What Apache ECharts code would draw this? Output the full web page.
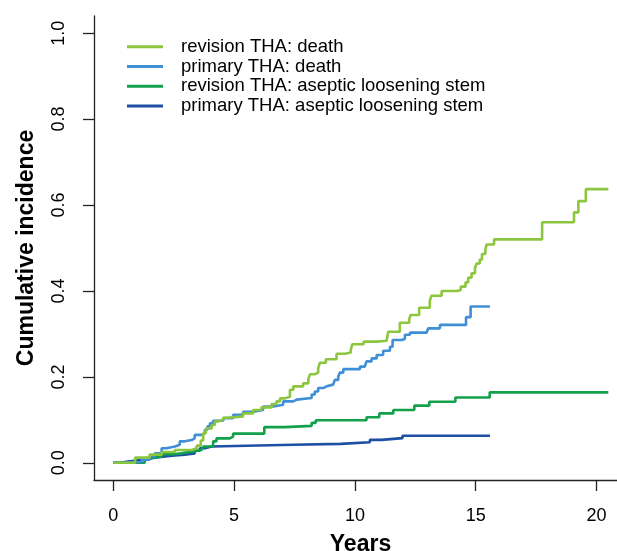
<!DOCTYPE html>
<html>
<head>
<meta charset="utf-8">
<script src="https://cdn.jsdelivr.net/npm/echarts@6/dist/echarts.min.js"></script>
<style>
html,body{margin:0;padding:0;background:#fff;}
#chart{width:617px;height:551px;}
</style>
</head>
<body>
<div id="chart"></div>
<script>
// ---- data ----
const seriesNames = [
  'revision THA: death',
  'primary THA: death',
  'revision THA: aseptic loosening stem',
  'primary THA: aseptic loosening stem'
];
const xTicks = [0, 5, 10, 15, 20];
const yTicks = [0, 0.2, 0.4, 0.6, 0.8, 1.0];

const revDeathT = [0, 0.9, 1.5, 2.0, 2.55, 3.24, 3.45, 3.62, 3.72, 3.83, 4.07, 4.2, 4.34, 4.55, 4.76, 5.37, 5.79, 6.13, 6.55, 6.75, 6.9, 7.1, 7.31, 7.45, 7.86, 8.07, 8.14, 8.33, 8.48, 8.55, 8.8, 9.24, 9.59, 9.83, 9.89, 10.36, 10.92, 11.31, 11.38, 11.86, 12.25, 12.3, 12.66, 13.1, 13.17, 13.59, 14.21, 14.38, 14.58, 14.69, 14.83, 14.97, 15.04, 15.17, 15.26, 15.4, 15.45, 15.76, 17.75, 19.07, 19.25, 19.56, 20.49];
const revDeathV = [0, 0.012, 0.019, 0.025, 0.030, 0.034, 0.040, 0.052, 0.069, 0.080, 0.088, 0.096, 0.100, 0.105, 0.108, 0.115, 0.123, 0.129, 0.137, 0.143, 0.150, 0.154, 0.170, 0.178, 0.185, 0.194, 0.206, 0.210, 0.220, 0.233, 0.241, 0.254, 0.257, 0.263, 0.276, 0.282, 0.284, 0.288, 0.305, 0.326, 0.334, 0.344, 0.361, 0.377, 0.389, 0.400, 0.402, 0.410, 0.420, 0.431, 0.441, 0.453, 0.464, 0.473, 0.486, 0.495, 0.508, 0.520, 0.560, 0.583, 0.609, 0.637, 0.637];

const priDeathT = [0, 0.4, 1.17, 1.51, 1.72, 2.0, 2.2, 2.55, 2.75, 2.96, 3.24, 3.37, 3.65, 3.79, 3.9, 4.0, 4.13, 4.55, 4.96, 5.37, 5.79, 6.2, 6.62, 7.03, 7.45, 7.59, 8.21, 8.34, 8.48, 8.69, 8.83, 9.1, 9.17, 9.31, 9.38, 9.52, 10.21, 10.41, 10.48, 10.69, 10.9, 11.17, 11.45, 11.56, 11.93, 12.07, 12.28, 12.97, 13.03, 13.52, 14.6, 14.79, 15.59];
const priDeathV = [0, 0.002, 0.007, 0.015, 0.022, 0.034, 0.038, 0.042, 0.050, 0.053, 0.057, 0.065, 0.069, 0.077, 0.085, 0.092, 0.098, 0.104, 0.112, 0.119, 0.123, 0.131, 0.135, 0.143, 0.147, 0.151, 0.159, 0.166, 0.174, 0.178, 0.182, 0.184, 0.193, 0.201, 0.210, 0.218, 0.224, 0.228, 0.236, 0.243, 0.251, 0.261, 0.270, 0.286, 0.288, 0.298, 0.303, 0.305, 0.313, 0.321, 0.339, 0.364, 0.364];

const revLoosT = [0, 1.3, 1.58, 2.0, 2.48, 2.82, 3.24, 3.65, 3.72, 4.13, 4.27, 4.82, 4.96, 6.25, 7.1, 8.21, 8.38, 10.48, 11.01, 11.59, 12.46, 13.08, 14.16, 15.58, 20.49];
const revLoosV = [0, 0.011, 0.015, 0.020, 0.022, 0.026, 0.030, 0.034, 0.038, 0.050, 0.057, 0.061, 0.068, 0.083, 0.086, 0.093, 0.099, 0.106, 0.115, 0.123, 0.133, 0.142, 0.152, 0.164, 0.164];

const priLoosT = [0, 0.27, 0.61, 1.23, 1.65, 2.13, 2.55, 2.96, 3.37, 3.58, 3.79, 4.07, 7.45, 9.41, 10.62, 11.1, 11.97, 15.59];
const priLoosV = [0, 0.003, 0.007, 0.011, 0.015, 0.017, 0.019, 0.022, 0.028, 0.034, 0.038, 0.042, 0.044, 0.048, 0.0535, 0.0574, 0.063, 0.063];

const colors = ['#8cc63f', '#3f8fd6', '#12a14b', '#1d4fa5'];

function pairs(t, v) { return t.map((x, i) => [x, v[i]]); }
const seriesData = [
  pairs(revDeathT, revDeathV),
  pairs(priDeathT, priDeathV),
  pairs(revLoosT, revLoosV),
  pairs(priLoosT, priLoosV)
];

const FONT = '"Liberation Sans", Arial, Helvetica, sans-serif';
const chart = echarts.init(document.getElementById('chart'), null, {renderer: 'canvas'});
chart.setOption({
  animation: false,
  backgroundColor: '#fff',
  textStyle: {fontFamily: FONT},
  grid: {left: 94, right: 0, top: 16, bottom: 71, containLabel: false, outerBoundsMode: 'none'},
  legend: {
    orient: 'vertical',
    left: 127,
    top: 37,
    padding: 0,
    icon: 'rect',
    itemWidth: 36,
    itemHeight: 3,
    itemGap: 0,
    textStyle: {fontFamily: FONT, fontSize: 18.5, color: '#000', lineHeight: 19.7, padding: [0, 0, 0, 13]},
    data: seriesNames
  },
  xAxis: {
    type: 'value',
    min: -0.8,
    max: 20.85,
    name: 'Years',
    nameLocation: 'middle',
    nameGap: 53,
    nameMoveOverlap: false,
    nameTextStyle: {fontFamily: FONT, fontSize: 23, fontWeight: 'bold', color: '#000', padding: [0, 0, 0, 10]},
    axisLine: {show: true, onZero: false, lineStyle: {color: '#222', width: 1.3}},
    axisTick: {show: true, length: 11, inside: false, lineStyle: {color: '#222', width: 1.3}, customValues: xTicks},
    axisLabel: {show: true, margin: 27, fontSize: 18, color: '#000', fontFamily: FONT, customValues: xTicks, formatter: v => String(v)},
    splitLine: {show: false}
  },
  yAxis: {
    type: 'value',
    min: -0.04,
    max: 1.04,
    name: 'Cumulative incidence',
    nameLocation: 'middle',
    nameGap: 56,
    nameRotate: 90,
    nameMoveOverlap: false,
    nameTextStyle: {fontFamily: FONT, fontSize: 23, fontWeight: 'bold', color: '#000'},
    axisLine: {show: true, onZero: false, lineStyle: {color: '#222', width: 1.3}},
    axisTick: {show: true, length: 11, lineStyle: {color: '#222', width: 1.3}, customValues: yTicks},
    axisLabel: {show: true, rotate: 90, margin: 26, fontSize: 18, color: '#000', fontFamily: FONT, customValues: yTicks, formatter: v => v.toFixed(1)},
    splitLine: {show: false}
  },
  series: seriesNames.map((name, i) => ({
    name: name,
    type: 'line',
    step: 'end',
    showSymbol: false,
    symbol: 'none',
    data: seriesData[i],
    color: colors[i],
    lineStyle: {width: 2.6, color: colors[i]},
    z: 10 - i
  }))
});
</script>
</body>
</html>
